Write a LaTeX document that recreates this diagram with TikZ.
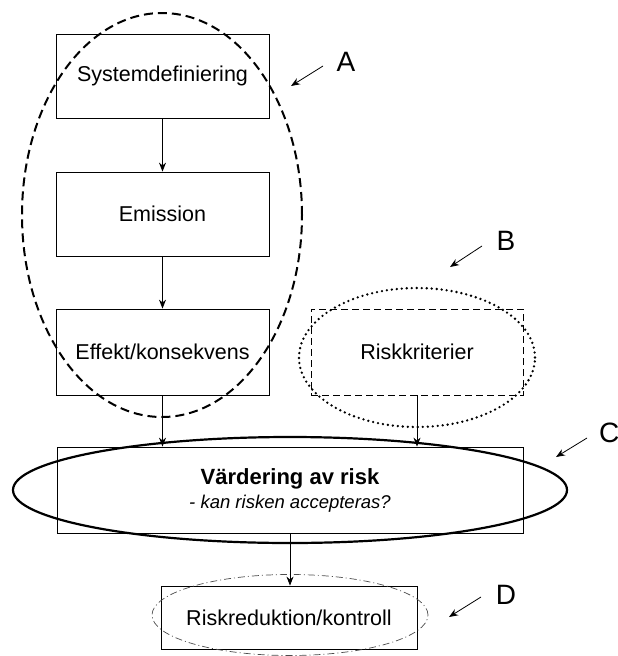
\documentclass[tikz,border=0pt]{standalone}
\usepackage{fontspec}
\setmainfont{Liberation Sans}
\usetikzlibrary{arrows.meta}
\begin{document}
\begin{tikzpicture}[x=1pt,y=-1pt,
  box/.style={draw,line width=0.8pt,inner sep=0pt,font=\fontsize{21.5}{25}\selectfont},
  conn/.style={line width=0.8pt,-{Stealth[length=9pt,width=7pt]}},
  tag/.style={inner sep=0pt,font=\fontsize{28}{30}\selectfont},
  tagarrow/.style={line width=0.8pt,-{Stealth[length=9pt,width=7pt]}}]
\useasboundingbox (0,0) rectangle (618,656);
% boxes
\node[box,minimum width=213pt,minimum height=84pt] (sys) at (162.5,76) {Systemdefiniering};
\node[box,minimum width=213pt,minimum height=84pt] (emi) at (162.5,214) {Emission};
\node[box,minimum width=213pt,minimum height=86pt] (eff) at (162.5,352) {Effekt/konsekvens};
\node[box,dashed,dash pattern=on 7pt off 4pt,minimum width=212pt,minimum height=86pt] (rk) at (417,352) {Riskkriterier};
\node[box,minimum width=466pt,minimum height=86pt,align=center] (vard) at (290,490)
  {\fontsize{22}{26}\selectfont\bfseries Värdering av risk\\[-1pt]
   \fontsize{18.5}{22}\selectfont\itshape - kan risken accepteras?};
\node[box,minimum width=256pt,minimum height=63pt] (red) at (289,617.5) {Riskreduktion/kontroll};
% ellipses
\draw[line width=2pt,dash pattern=on 9pt off 5pt] (162,215) ellipse [x radius=140pt,y radius=202pt];
\draw[line width=2.6pt,line cap=round,dash pattern=on 0pt off 5pt] (417,357.5) ellipse [x radius=118pt,y radius=69.5pt];
\draw[line width=2.2pt] (290,490) ellipse [x radius=277pt,y radius=53pt];
\draw[line width=0.7pt,black!70,dash pattern=on 7pt off 3pt on 1pt off 3pt] (290,615) ellipse [x radius=138pt,y radius=40.5pt];
% connectors
\draw[conn] (sys.south) -- (emi.north);
\draw[conn] (emi.south) -- (eff.north);
\draw[conn] (eff.south) -- (eff.south |- vard.north);
\draw[conn] (rk.south) -- (rk.south |- vard.north);
\draw[conn] (vard.south) -- (vard.south |- red.north);
% tags
\node[tag] (tA) at (346,62) {A};
\node[tag] (tB) at (506,241) {B};
\node[tag,anchor=west] (tC) at (599,433) {C};
\node[tag] (tD) at (506,595) {D};
\coordinate (aA1) at (323,66); \coordinate (aA2) at (291,86);
\coordinate (aB1) at (482,246); \coordinate (aB2) at (450,267);
\coordinate (aC1) at (587,438); \coordinate (aC2) at (556,457);
\coordinate (aD1) at (481,597); \coordinate (aD2) at (449,617);
\draw[tagarrow] (aA1) -- (aA2);
\draw[tagarrow] (aB1) -- (aB2);
\draw[tagarrow] (aC1) -- (aC2);
\draw[tagarrow] (aD1) -- (aD2);
\end{tikzpicture}
\end{document}
